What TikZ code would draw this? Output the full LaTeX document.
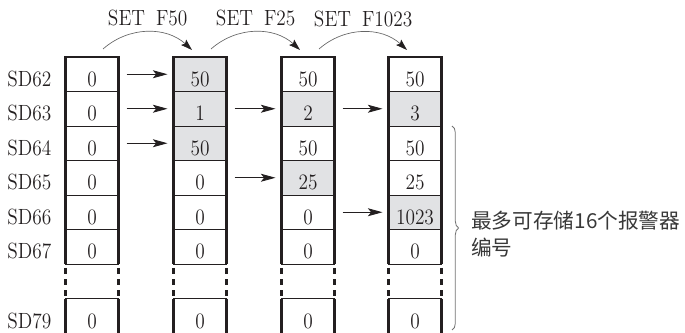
\documentclass[tikz,border=0pt]{standalone}
\usepackage{fontspec}
\newfontfamily\cjk{Noto Sans CJK SC}
\newfontfamily\regfont{lmroman12-regular}[Extension=.otf,FakeStretch=0.88]
\usetikzlibrary{positioning,calc}
\usetikzlibrary{arrows.meta,decorations.pathreplacing}
\definecolor{InkGray}{RGB}{35,31,32}
\definecolor{CellGray}{RGB}{225,226,228}
\tikzset{
  cell/.style={draw=InkGray,line width=0.6pt,fill=white,inner sep=0pt,outer sep=0pt,
    minimum width=39.75pt,minimum height=25.875pt,text height=18.375pt,text depth=0pt,
    font=\regfont\fontsize{16.5}{18}\selectfont,text=InkGray},
  hot/.style={cell,fill=CellGray},
  reg/.style={anchor=west,inner sep=0pt,minimum height=25.875pt,text height=18.375pt,
    text depth=0pt,font=\regfont\fontsize{16.5}{18}\selectfont,text=InkGray},
  side/.style={draw=InkGray,line width=1.8pt},
  gap/.style={side,dash pattern=on 4.5pt off 3.75pt,dash phase=5.25pt},
  push/.style={draw=InkGray,line width=0.7pt,-{Stealth[length=11pt,width=6pt,inset=2.5pt]},
    shorten <=6pt,shorten >=4.5pt},
  setarc/.style={draw=black!60,line width=0.5pt,
    -{Stealth[length=8.5pt,width=5.5pt,inset=1.5pt,color=InkGray]}},
  setlab/.style={font=\regfont\fontsize{16.5}{18}\selectfont,text=InkGray,inner sep=4pt},
  curly/.style={draw=black!55,line width=0.6pt,decorate,decoration={brace,amplitude=5pt}},
  memo/.style={anchor=west,align=left,inner sep=0pt,text=black!78,
    font=\cjk\fontsize{15.5}{20}\selectfont},
}
\begin{document}
\begin{tikzpicture}[x=0.75pt,y=0.75pt]
\useasboundingbox (0,0) rectangle (685,332);
% register names
\node[reg] (sd62) at (7,257.75) {SD62};
\node[reg] (sd63) at (7,223.25) {SD63};
\node[reg] (sd64) at (7,188.75) {SD64};
\node[reg] (sd65) at (7,154.25) {SD65};
\node[reg] (sd66) at (7,119.75) {SD66};
\node[reg] (sd67) at (7,85.25) {SD67};
\node[reg] (sd79) at (7,16.25) {SD79};
% initial state
\node[cell] (s0-62) at (92,257.75) {0};
\node[cell] (s0-63) at (92,223.25) {0};
\node[cell] (s0-64) at (92,188.75) {0};
\node[cell] (s0-65) at (92,154.25) {0};
\node[cell] (s0-66) at (92,119.75) {0};
\node[cell] (s0-67) at (92,85.25) {0};
\node[cell] (s0-79) at (92,16.25) {0};
% after SET F50
\node[hot] (s1-62) at (200,257.75) {50};
\node[hot] (s1-63) at (200,223.25) {1};
\node[hot] (s1-64) at (200,188.75) {50};
\node[cell] (s1-65) at (200,154.25) {0};
\node[cell] (s1-66) at (200,119.75) {0};
\node[cell] (s1-67) at (200,85.25) {0};
\node[cell] (s1-79) at (200,16.25) {0};
% after SET F25
\node[cell] (s2-62) at (308,257.75) {50};
\node[hot] (s2-63) at (308,223.25) {2};
\node[cell] (s2-64) at (308,188.75) {50};
\node[hot] (s2-65) at (308,154.25) {25};
\node[cell] (s2-66) at (308,119.75) {0};
\node[cell] (s2-67) at (308,85.25) {0};
\node[cell] (s2-79) at (308,16.25) {0};
% after SET F1023
\node[cell] (s3-62) at (415,257.75) {50};
\node[hot] (s3-63) at (415,223.25) {3};
\node[cell] (s3-64) at (415,188.75) {50};
\node[cell] (s3-65) at (415,154.25) {25};
\node[hot] (s3-66) at (415,119.75) {1023};
\node[cell] (s3-67) at (415,85.25) {0};
\node[cell] (s3-79) at (415,16.25) {0};
% column frames
\draw[side] (s0-67.south west) -- (s0-62.north west) -- (s0-62.north east) -- (s0-67.south east);
\draw[gap] (s0-67.south west) -- (s0-79.north west);
\draw[gap] (s0-67.south east) -- (s0-79.north east);
\draw[side] (s0-79.north west) -- (s0-79.south west);
\draw[side] (s0-79.north east) -- (s0-79.south east);
\draw[side] (s1-67.south west) -- (s1-62.north west) -- (s1-62.north east) -- (s1-67.south east);
\draw[gap] (s1-67.south west) -- (s1-79.north west);
\draw[gap] (s1-67.south east) -- (s1-79.north east);
\draw[side] (s1-79.north west) -- (s1-79.south west);
\draw[side] (s1-79.north east) -- (s1-79.south east);
\draw[side] (s2-67.south west) -- (s2-62.north west) -- (s2-62.north east) -- (s2-67.south east);
\draw[gap] (s2-67.south west) -- (s2-79.north west);
\draw[gap] (s2-67.south east) -- (s2-79.north east);
\draw[side] (s2-79.north west) -- (s2-79.south west);
\draw[side] (s2-79.north east) -- (s2-79.south east);
\draw[side] (s3-67.south west) -- (s3-62.north west) -- (s3-62.north east) -- (s3-67.south east);
\draw[gap] (s3-67.south west) -- (s3-79.north west);
\draw[gap] (s3-67.south east) -- (s3-79.north east);
\draw[side] (s3-79.north west) -- (s3-79.south west);
\draw[side] (s3-79.north east) -- (s3-79.south east);
% copies
\draw[push] (s0-62.east) -- (s1-62.west);
\draw[push] (s0-63.east) -- (s1-63.west);
\draw[push] (s0-64.east) -- (s1-64.west);
\draw[push] (s1-63.east) -- (s2-63.west);
\draw[push] (s1-65.east) -- (s2-65.west);
\draw[push] (s2-63.east) -- (s3-63.west);
\draw[push] (s2-66.east) -- (s3-66.west);
% SET instructions
\coordinate (f50a) at ($(s0-62.north)+(11,8)$);
\coordinate (f50b) at ($(s1-62.north)+(-8,7)$);
\coordinate (f25a) at ($(s1-62.north)+(11,8)$);
\coordinate (f25b) at ($(s2-62.north)+(-8,7)$);
\coordinate (f1023a) at ($(s2-62.north)+(11,8)$);
\coordinate (f1023b) at ($(s3-62.north)+(-8,7)$);
\draw[setarc] (f50a) to[bend left=42] node[setlab,above] (f50) {SET\enspace F50} (f50b);
\draw[setarc] (f25a) to[bend left=42] node[setlab,above] (f25) {SET\enspace F25} (f25b);
\draw[setarc] (f1023a) to[bend left=42] node[setlab,above] (f1023) {SET\enspace F1023} (f1023b);
% capacity note
\draw[curly] (452,206) -- (452,2);
\node[memo] (memo) at (471,98) {最多可存储16个报警器\\编号};
\end{tikzpicture}
\end{document}
